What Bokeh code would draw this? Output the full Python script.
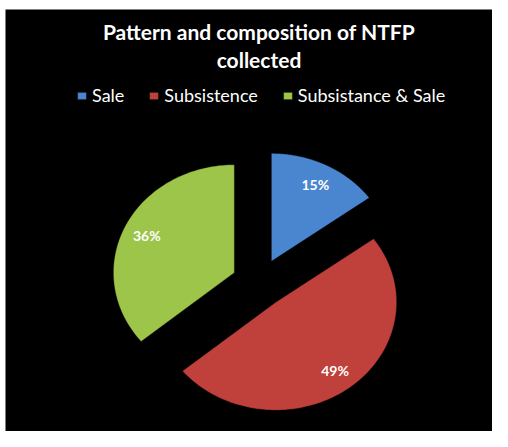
import numpy as np
from bokeh.plotting import figure
from bokeh.models import ColumnDataSource, Range1d, Legend, LegendItem
from bokeh.core.properties import value
from bokeh.embed import file_html
from bokeh.resources import INLINE

# ---- data ----
title_text = "Pattern and composition of NTFP\ncollected"
categories = ["Sale", "Subsistence", "Subsistance & Sale"]
shares = [15, 49, 36]
colors = ["#4A86CF", "#C0403B", "#9DC54A"]

# ---- layout constants (page pixels) ----
W, H = 492, 431
LEFT, TOP = 5, 9          # white margin around the black chart area
CX, CY = 258.5, 282.5     # pie centre
RX, RY = 121.0, 108.0     # pie radii (px)
EXPLODE = 0.225
LABEL_R = 0.8
FONT = "Lato"

FW, FH = W - LEFT, H - TOP
fcx, fcy = CX - LEFT, CY - TOP
p = figure(width=W, height=H, output_backend="svg", toolbar_location=None,
           x_range=Range1d(-fcx / RX, (FW - fcx) / RX),
           y_range=Range1d((fcy - FH) / RY, fcy / RY),
           min_border=0, min_border_left=LEFT, min_border_top=TOP,
           background_fill_color="black", border_fill_color="white")
p.axis.visible = False
p.grid.visible = False
p.outline_line_color = None


def fx(px):
    return (px - CX) / RX


def fy(py):
    return (CY - py) / RY


frac = np.array(shares, dtype=float) / sum(shares)
ends = np.cumsum(frac) * 2 * np.pi
starts = ends - frac * 2 * np.pi
xs, ys, lx, ly = [], [], [], []
for s, e in zip(starts, ends):
    mid = (s + e) / 2
    ox, oy = EXPLODE * np.sin(mid), EXPLODE * np.cos(mid)
    t = np.linspace(s, e, 120)
    xs.append(np.concatenate([[ox], ox + np.sin(t)]).tolist())
    ys.append(np.concatenate([[oy], oy + np.cos(t)]).tolist())
    lx.append(ox + LABEL_R * np.sin(mid))
    ly.append(oy + LABEL_R * np.cos(mid))

src = ColumnDataSource(dict(xs=xs, ys=ys, color=colors, label=categories,
                            lx=lx, ly=ly, txt=[f"{v}%" for v in shares]))
r = p.patches("xs", "ys", source=src, fill_color="color", line_color="black",
              line_alpha=0.35, line_width=1)

p.text(x="lx", y="ly", text="txt", source=src, text_color="white",
       text_font=value(FONT), text_font_style="bold", text_font_size="14px",
       text_align="center", text_baseline="middle")

p.text(x=[fx(258.5)], y=[fy(45)], text=[title_text], text_color="white",
       text_font=value(FONT), text_font_style="bold", text_font_size="21px",
       text_align="center", text_baseline="middle", text_line_height=1.15)

legend = Legend(items=[LegendItem(label=c, renderers=[r], index=i)
                       for i, c in enumerate(categories)],
                orientation="horizontal", location=(76 - LEFT, H - 108 + 2),
                padding=0, margin=0, spacing=24, label_standoff=5,
                glyph_width=11, glyph_height=9,
                label_text_color="white", label_text_font=FONT,
                label_text_font_size="18px",
                background_fill_alpha=0, border_line_color=None)
p.add_layout(legend, "center")

open("out.html", "w").write(file_html(p, INLINE))
